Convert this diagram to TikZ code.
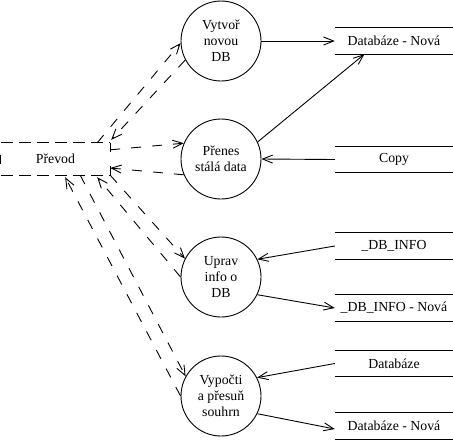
\documentclass[tikz,border=0pt]{standalone}
\usepackage{fontspec}
\setmainfont{Liberation Serif}
\usetikzlibrary{arrows.meta,calc}
\begin{document}
\begin{tikzpicture}[x=1pt,y=-1pt,
  every node/.style={font=\fontsize{13.8pt}{16pt}\selectfont},
  proc/.style={draw, circle, minimum size=80pt, inner sep=0pt, align=center, line width=0.9pt},
  store/.style={minimum width=118pt, minimum height=26pt, inner sep=0pt},
  storeline/.style={line width=0.9pt},
  extbox/.style={minimum width=109pt, minimum height=32pt, inner sep=0pt},
  arr/.style={line width=0.9pt, -{Straight Barb[length=10pt,width=8pt,line width=0.9pt]}},
  darr/.style={arr, dash pattern=on 10pt off 11pt},
  boxline/.style={line width=0.9pt, dash pattern=on 12pt off 6pt}]
\useasboundingbox (0,0) rectangle (453,440);

% processes
\node[proc] (c1) at (221,41)  {Vytvoř\\novou\\DB};
\node[proc] (c2) at (221,159) {Přenes\\stálá data};
\node[proc] (c3) at (221,277) {Uprav\\info o\\DB};
\node[proc] (c4) at (221,396) {Vypočti\\a přesuň\\souhrn};

% data stores
\node[store] (s1) at (394,41)    {Databáze - Nová};
\node[store] (s2) at (394,159.5) {Copy};
\node[store] (s3) at (394,246)   {\_DB\_INFO};
\node[store] (s4) at (394,308)   {\_DB\_INFO - Nová};
\node[store] (s5) at (394,363.5) {Databáze};
\node[store] (s6) at (394,426)   {Databáze - Nová};
\foreach \s in {s1,s2,s3,s4,s5,s6}
  \draw[storeline] (\s.north west) -- (\s.north east) (\s.south west) -- (\s.south east);

% external
\node[extbox] (p) at (55.5,159) {Převod};
\draw[boxline] (p.north west) -- (p.north east);
\draw[boxline] (p.south west) -- (p.south east);
\draw[line width=0.9pt, dash pattern=on 9pt off 14pt] (p.north east) -- (p.south east);
\draw[line width=0.9pt] ([yshift=4.5pt]p.west) -- ([yshift=-4.5pt]p.west);

% data flows
\draw[arr] (c1.east) -- (s1.west);
\draw[arr] (c2.25) -- ($(s1.south west)!0.25!(s1.south east)$);
\draw[arr] (s2.west) -- (c2.east);
\draw[arr] (s3.west) -- (c3.26);
\draw[arr] (c3.-26) -- (s4.west);
\draw[arr] (s5.west) -- (c4.27);
\draw[arr] (c4.-26) -- ([yshift=-3pt]s6.west);

% control flows
\draw[darr] ([xshift=-13pt]p.north east) -- (c1.183);
\draw[darr] (c1.208) -- ([xshift=1pt,yshift=3pt]p.north east);
\draw[darr] ([yshift=-7pt]p.north east) -- (c2.157);
\draw[darr] (c2.203) -- ([yshift=-9pt]p.east);
\draw[darr] (p.south east) -- (c3.153);
\draw[darr] (c3.west) -- ([xshift=-13pt,yshift=-2pt]p.south east);
\draw[darr] ([xshift=-30pt]p.south east) -- (c4.151);
\draw[darr] (c4.west) -- ([xshift=-45pt,yshift=-2pt]p.south east);
\end{tikzpicture}
\end{document}
